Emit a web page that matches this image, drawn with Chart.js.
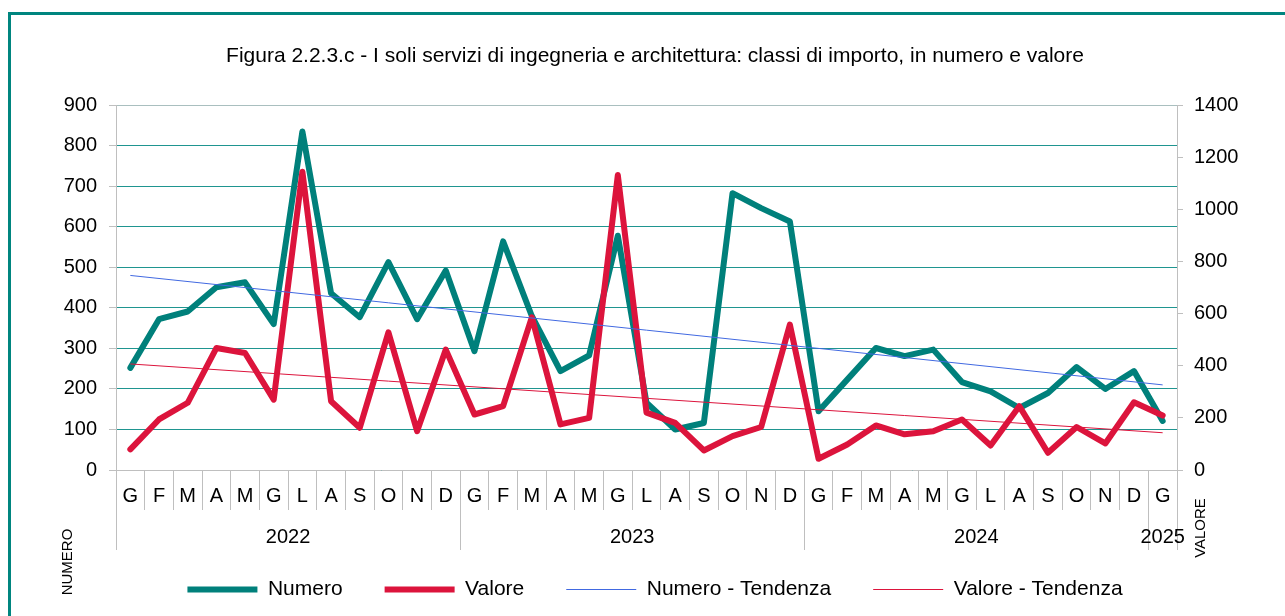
<!DOCTYPE html>
<html>
<head>
<meta charset="utf-8">
<title>Figura 2.2.3.c</title>
<script src="https://cdn.jsdelivr.net/npm/chart.js@4/dist/chart.umd.min.js"></script>
<style>
  html, body { margin: 0; padding: 0; background: #fff; overflow: hidden; }
  #frame { position: absolute; left: 8px; top: 12px; width: 1300px; height: 700px; border: 3px solid #00857f; }
  #chart { position: absolute; left: 0; top: 0; }
</style>
</head>
<body>
<div id="frame"></div>
<canvas id="chart" width="1285" height="616"></canvas>
<script>
// months, Jan 2022 .. Jan 2025
const months = ['G','F','M','A','M','G','L','A','S','O','N','D',
                'G','F','M','A','M','G','L','A','S','O','N','D',
                'G','F','M','A','M','G','L','A','S','O','N','D',
                'G'];
const years = ['2022', '2023', '2024', '2025'];
const yearStart = [0, 12, 24, 36];

// left axis (numero)
const numero = [252, 372, 391, 451, 463, 360, 835, 436, 377, 513, 372, 492,
                293, 564, 380, 244, 283, 578, 166, 100, 116, 683, 646, 613,
                145, 223, 301, 281, 297, 217, 194, 153, 190, 254, 200, 244, 121];
// right axis (valore)
const valore = [79, 194, 258, 468, 449, 270, 1145, 264, 162, 528, 149, 462,
                213, 245, 586, 175, 200, 1132, 220, 181, 75, 130, 165, 558,
                43, 98, 171, 137, 149, 194, 94, 245, 66, 165, 102, 260, 209];

// trend lines: start and end values
const numeroTrend = [480].concat(new Array(35).fill(null), [210]);
const valoreTrend = [407].concat(new Array(35).fill(null), [143]);

const TEAL = '#00807b';
const RED = '#dc143c';
const BLUE = '#4169e1';
const GRAY = '#bfbfbf';
const FONT = 'Liberation Sans, Arial, sans-serif';

const yearsPlugin = {
    id: 'years',
    afterDraw(chart) {
        const ctx = chart.ctx;
        const x = chart.scales.x;
        const area = chart.chartArea;
        const half = (x.getPixelForValue(1) - x.getPixelForValue(0)) / 2;
        ctx.save();
        ctx.strokeStyle = GRAY;
        ctx.lineWidth = 1;
        const bounds = yearStart.map(i => x.getPixelForValue(i) - half);
        bounds.push(area.right);
        bounds.forEach(px => {
            const p = Math.round(px) + 0.5;
            ctx.beginPath();
            ctx.moveTo(p, area.bottom);
            ctx.lineTo(p, 550);
            ctx.stroke();
        });
        ctx.fillStyle = '#000';
        ctx.font = '20px ' + FONT;
        ctx.textAlign = 'center';
        ctx.textBaseline = 'middle';
        years.forEach((y, i) => {
            const first = yearStart[i];
            const last = i + 1 < yearStart.length ? yearStart[i + 1] - 1 : months.length - 1;
            const cx = (x.getPixelForValue(first) + x.getPixelForValue(last)) / 2;
            ctx.fillText(y, cx, 537);
        });
        // axis titles
        ctx.font = '15px ' + FONT;
        ctx.save();
        ctx.translate(68, 562);
        ctx.rotate(-Math.PI / 2);
        ctx.fillText('NUMERO', 0, 0);
        ctx.restore();
        ctx.save();
        ctx.translate(1201, 528);
        ctx.rotate(-Math.PI / 2);
        ctx.fillText('VALORE', 0, 0);
        ctx.restore();
        ctx.restore();
    }
};

new Chart(document.getElementById('chart'), {
    type: 'line',
    data: {
        labels: months,
        datasets: [
            {
                label: 'Numero',
                data: numero,
                yAxisID: 'y',
                borderColor: TEAL,
                backgroundColor: TEAL,
                borderWidth: 6,
                borderCapStyle: 'round',
                borderJoinStyle: 'round',
                pointRadius: 0,
                order: 3
            },
            {
                label: 'Valore',
                data: valore,
                yAxisID: 'y2',
                borderColor: RED,
                backgroundColor: RED,
                borderWidth: 6,
                borderCapStyle: 'round',
                borderJoinStyle: 'round',
                pointRadius: 0,
                order: 2
            },
            {
                label: 'Numero - Tendenza',
                data: numeroTrend,
                yAxisID: 'y',
                borderColor: BLUE,
                backgroundColor: BLUE,
                borderWidth: 1,
                pointRadius: 0,
                spanGaps: true,
                order: 0
            },
            {
                label: 'Valore - Tendenza',
                data: valoreTrend,
                yAxisID: 'y2',
                borderColor: RED,
                backgroundColor: RED,
                borderWidth: 1,
                pointRadius: 0,
                spanGaps: true,
                order: 1
            }
        ]
    },
    options: {
        responsive: false,
        animation: false,
        devicePixelRatio: 1,
        layout: { padding: { left: 30, right: 5, top: 0, bottom: 6 } },
        plugins: {
            title: {
                display: true,
                text: 'Figura 2.2.3.c - I soli servizi di ingegneria e architettura: classi di importo, in numero e valore',
                color: '#000',
                font: { family: FONT, size: 21, weight: 'normal' },
                padding: { top: 44, bottom: 36 }
            },
            legend: {
                position: 'bottom',
                labels: {
                    color: '#000',
                    font: { family: FONT, size: 21 },
                    usePointStyle: true,
                    pointStyle: 'line',
                    pointStyleWidth: 70,
                    padding: 42,
                    sort: (a, b) => a.datasetIndex - b.datasetIndex
                }
            },
            tooltip: { enabled: false }
        },
        scales: {
            x: {
                offset: true,
                grid: {
                    offset: true,
                    drawOnChartArea: false,
                    tickLength: 40,
                    color: GRAY
                },
                border: { color: GRAY },
                ticks: {
                    color: '#000',
                    font: { family: FONT, size: 20 },
                    padding: -26,
                    autoSkip: false,
                    maxRotation: 0
                },
                afterFit(scale) { scale.height = 67; }
            },
            y: {
                position: 'left',
                min: 0,
                max: 900,
                ticks: {
                    stepSize: 100,
                    color: '#000',
                    font: { family: FONT, size: 20 },
                    padding: 12
                },
                grid: {
                    color: ctx => ctx.tick && ctx.tick.value === 900 ? '#a9bfbf' : '#1f9590',
                    tickColor: GRAY,
                    tickLength: 7
                },
                border: { color: GRAY },
                afterFit(scale) { scale.width = 86; }
            },
            y2: {
                position: 'right',
                min: 0,
                max: 1400,
                ticks: {
                    stepSize: 200,
                    color: '#000',
                    font: { family: FONT, size: 20 },
                    padding: 11,
                    callback: v => String(v)
                },
                grid: {
                    drawOnChartArea: false,
                    color: GRAY,
                    tickLength: 6
                },
                border: { color: GRAY },
                afterFit(scale) { scale.width = 103; }
            }
        }
    },
    plugins: [yearsPlugin]
});
</script>
</body>
</html>
